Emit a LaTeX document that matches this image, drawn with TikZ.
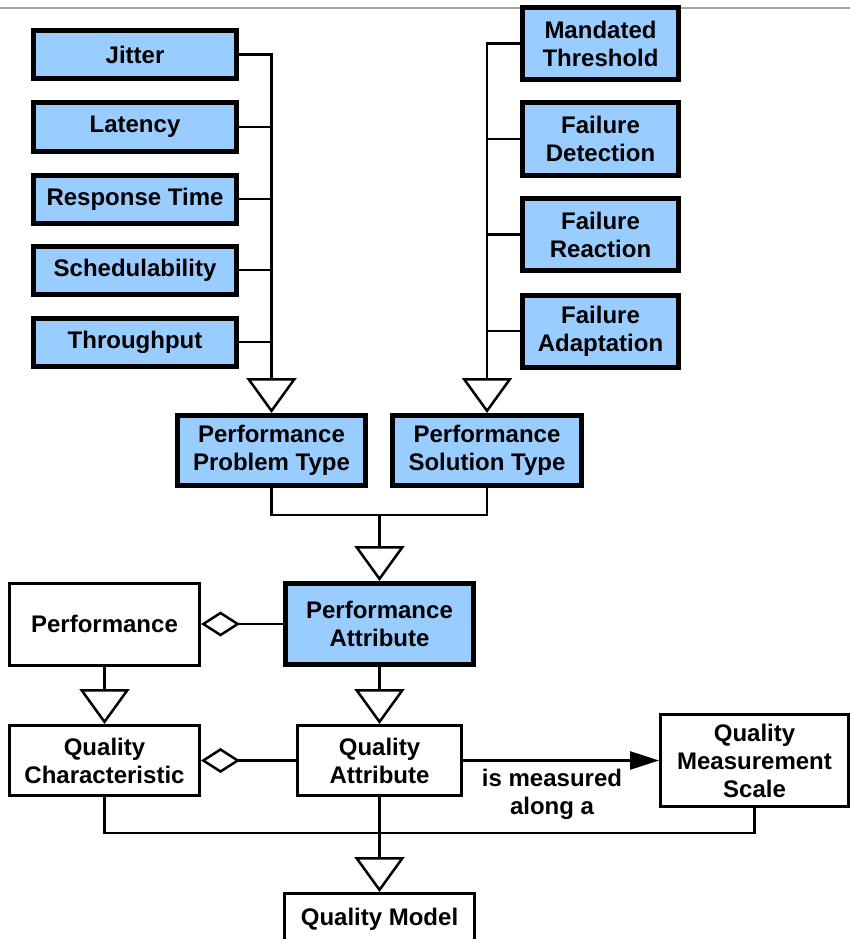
\documentclass[tikz,border=0pt]{standalone}
\usepackage{fontspec}
\setmainfont{Liberation Sans}
\usetikzlibrary{arrows.meta}
\definecolor{qblue}{HTML}{99CCFF}
\tikzset{
  box/.style={draw,line width=3pt,fill=white,align=center,inner sep=0pt,
    font=\bfseries\fontsize{24}{28}\selectfont},
  perfbox/.style={box,line width=5pt,fill=qblue},
  link/.style={line width=2.5pt},
  gen/.style={link,-{Triangle[open,length=35pt,width=50pt]}},
  part/.style={link,-{Diamond[open,length=39pt,width=25pt]}},
  assoc/.style={link,-{Triangle[length=29pt,width=18pt]}},
}
\begin{document}
\begin{tikzpicture}[x=1pt,y=-1pt]
\useasboundingbox (0,0) rectangle (850,939);
\clip (0,0) rectangle (850,939);

% Top rule
\draw[gray!70,line width=1.5pt] (0,8) -- (850,8);

% Problem types
\foreach \y/\name/\txt in {54.5/jit/Jitter, 127/lat/Latency, 199/resp/Response Time,
  270/sched/Schedulability, 342/thru/Throughput} {
  \node[perfbox,minimum width=203pt,minimum height=48pt] (\name) at (135,\y) {\txt};
}

% Solution types
\foreach \y/\name/\txt in {43.5/mand/Mandated\\Threshold, 139/fdet/Failure\\Detection,
  234.5/freac/Failure\\Reaction, 331/fadap/Failure\\Adaptation} {
  \node[perfbox,minimum width=156pt,minimum height=72pt] (\name) at (600.5,\y) {\txt};
}

% Performance types
\node[perfbox,minimum width=188pt,minimum height=70pt] (ppt) at (271.5,450.5) {Performance\\Problem Type};
\node[perfbox,minimum width=189pt,minimum height=70pt] (pst) at (487,450.5) {Performance\\Solution Type};
\node[perfbox,minimum width=188pt,minimum height=81pt] (pa) at (379.5,624) {Performance\\Attribute};

% Quality model
\node[box,minimum width=190pt,minimum height=82pt] (perf) at (104.5,624) {Performance};
\node[box,minimum width=190pt,minimum height=70pt] (qc) at (104.5,760.5) {Quality\\Characteristic};
\node[box,minimum width=164pt,minimum height=70pt] (qa) at (379.5,760.5) {Quality\\Attribute};
\node[box,minimum width=188pt,minimum height=92pt] (qms) at (754.5,760.5) {Quality\\Measurement\\Scale};
\node[box,minimum width=190pt,minimum height=52pt] (qm) at (379.5,919.5) {Quality Model};

% Generalisations
\draw[gen] (jit.east) -| (ppt.north);
\foreach \name in {lat,resp,sched,thru}
  \draw[link] (\name.east) -- (\name.east -| ppt.north);
\draw[gen] (mand.west) -| (pst.north);
\foreach \name in {fdet,freac,fadap}
  \draw[link] (\name.west) -- (\name.west -| pst.north);

\coordinate (pjoin) at (379.5,515);
\draw[link] (ppt.south) |- (pjoin) -| (pst.south);
\draw[gen] (pjoin) -- (pa.north);
\draw[gen] (perf.south) -- (qc.north);
\draw[gen] (pa.south) -- (qa.north);

% Aggregations
\draw[part] (pa.west) -- (perf.east);
\draw[part] (qa.west) -- (qc.east);

% Association
\draw[assoc] (qa.east) -- (qms.west);
\node[font=\bfseries\fontsize{24}{28}\selectfont,align=center,inner sep=0pt] (lbl) at (552,794) {is measured\\along a};

\coordinate (qjoin) at (379.5,833);
\draw[link] (qc.south) |- (qjoin) -| (qms.south);
\draw[gen] (qa.south) -- (qm.north);

\end{tikzpicture}
\end{document}
